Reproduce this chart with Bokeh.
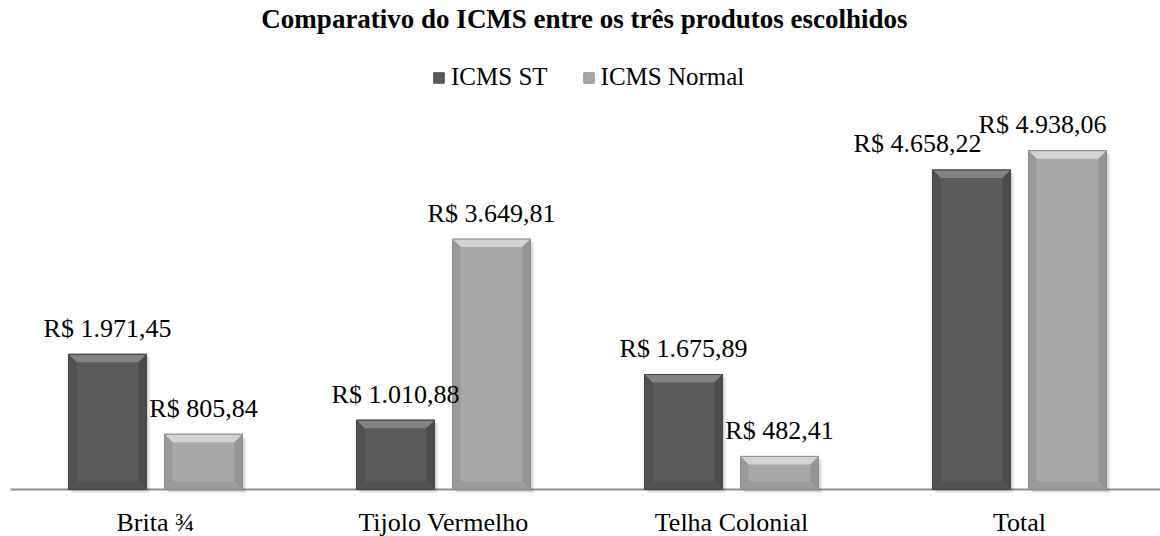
from bokeh.plotting import figure
from bokeh.models import Range1d, Label, Legend, LegendItem, ColumnDataSource
from bokeh.core.properties import value
from bokeh.embed import file_html
from bokeh.resources import INLINE

# ---------------- data ----------------
categories = ["Brita ¾", "Tijolo Vermelho", "Telha Colonial", "Total"]
icms_st = [1971.45, 1010.88, 1675.89, 4658.22]
icms_normal = [805.84, 3649.81, 482.41, 4938.06]
series_names = ["ICMS ST", "ICMS Normal"]
title_text = "Comparativo do ICMS entre os três produtos escolhidos"

# ---------------- styling ----------------
W, H = 1160, 536
PX_PER_UNIT_Y = 0.0686
PX_PER_CAT = 288.0
BASE_PX_FROM_BOTTOM = 47
FONT = "Liberation Serif"
bar_w = 0.271
bar_off = 48 / PX_PER_CAT
bevel_px = 8
# label horizontal nudges (px) per series per category (Excel avoids overlaps)
st_label_dx = [0, 0, 0, -54]
nm_label_dx = [0, 0, 0, -25]

dark = dict(face="#5a5a5a", top="#838383", left="#505050", right="#4c4c4c", bottom="#525252", edge="#444444")
light = dict(face="#a8a8a8", top="#d4d4d4", left="#999999", right="#949494", bottom="#9c9c9c", edge="#8e8e8e")


def fmt_brl(v):
    s = f"{v:,.2f}"
    return "R$ " + s.replace(",", "X").replace(".", ",").replace("X", ".")


y_start = -BASE_PX_FROM_BOTTOM / PX_PER_UNIT_Y
y_end = (H - BASE_PX_FROM_BOTTOM) / PX_PER_UNIT_Y
x_start = 0.5 - 155 / PX_PER_CAT
x_end = x_start + W / PX_PER_CAT

p = figure(width=W, height=H, output_backend="svg", toolbar_location=None,
           x_range=Range1d(x_start, x_end), y_range=Range1d(y_start, y_end),
           min_border=0, outline_line_color=None, background_fill_color="white",
           border_fill_color="white")
p.axis.visible = False
p.grid.visible = False

dx = bevel_px / PX_PER_CAT
dy = bevel_px / PX_PER_UNIT_Y
sdx = 3 / PX_PER_CAT
sdy = 3 / PX_PER_UNIT_Y

# baseline (from x=10px to the right edge)
p.segment(x0=[x_start + 10 / PX_PER_CAT], y0=[0], x1=[x_end], y1=[0],
          line_color="#8c8c8c", line_width=2)

renderers = []
for vals, off, col in ((icms_st, -bar_off, dark), (icms_normal, bar_off, light)):
    xs_c = [i + 0.5 + off for i in range(len(vals))]
    # soft shadow
    p.quad(left=[x - bar_w / 2 + sdx for x in xs_c], right=[x + bar_w / 2 + sdx for x in xs_c],
           top=[v - sdy for v in vals], bottom=[-sdy] * len(vals),
           fill_color="#000000", fill_alpha=0.12, line_color=None)
    src = ColumnDataSource(dict(x=xs_c, top=vals))
    r = p.vbar(x="x", top="top", width=bar_w, bottom=0, source=src,
               fill_color=col["face"], line_color=col["edge"], line_width=1)
    renderers.append(r)
    # bevel facets
    for key in ("top", "left", "right", "bottom"):
        pxs, pys = [], []
        for x, v in zip(xs_c, vals):
            x0, x1 = x - bar_w / 2, x + bar_w / 2
            if key == "top":
                pxs.append([x0, x1, x1 - dx, x0 + dx]); pys.append([v, v, v - dy, v - dy])
            elif key == "left":
                pxs.append([x0, x0, x0 + dx, x0 + dx]); pys.append([0, v, v - dy, dy])
            elif key == "right":
                pxs.append([x1, x1, x1 - dx, x1 - dx]); pys.append([0, v, v - dy, dy])
            else:
                pxs.append([x0, x1, x1 - dx, x0 + dx]); pys.append([0, 0, dy, dy])
        p.patches(pxs, pys, fill_color=col[key], line_color=None)
    # outline on top
    p.vbar(x=xs_c, top=vals, width=bar_w, bottom=0, fill_color=None,
           line_color=col["edge"], line_width=1)

# value labels
for vals, off, dxs in ((icms_st, -bar_off, st_label_dx), (icms_normal, bar_off, nm_label_dx)):
    for i, v in enumerate(vals):
        p.text(x=[i + 0.5 + off], y=[v], text=[fmt_brl(v)], x_offset=dxs[i], y_offset=-26,
               text_align="center", text_baseline="alphabetic",
               text_font=value(FONT), text_font_size="26px", text_color="#000000")

# category labels
p.text(x=[i + 0.5 for i in range(len(categories))], y=[0] * len(categories), text=categories,
       y_offset=33, text_align="center", text_baseline="middle",
       text_font=value(FONT), text_font_size="26px", text_color="#000000")

# title
p.add_layout(Label(x=584, y=H - 18, x_units="screen", y_units="screen", text=title_text,
                   text_align="center", text_baseline="alphabetic", text_font=FONT,
                   text_font_size="27px", text_font_style="bold", text_color="#000000"))

legend = Legend(items=[LegendItem(label=series_names[0], renderers=[renderers[0]]),
                       LegendItem(label=series_names[1], renderers=[renderers[1]])],
                orientation="horizontal", location=(432, 445),
                label_text_font=FONT, label_text_font_size="25px", label_text_color="#000000",
                glyph_width=13, glyph_height=13, label_standoff=6, spacing=34,
                padding=0, margin=0, border_line_color=None, background_fill_alpha=0,
                label_height=13)
p.add_layout(legend, "center")

open("out.html", "w").write(file_html(p, INLINE))
